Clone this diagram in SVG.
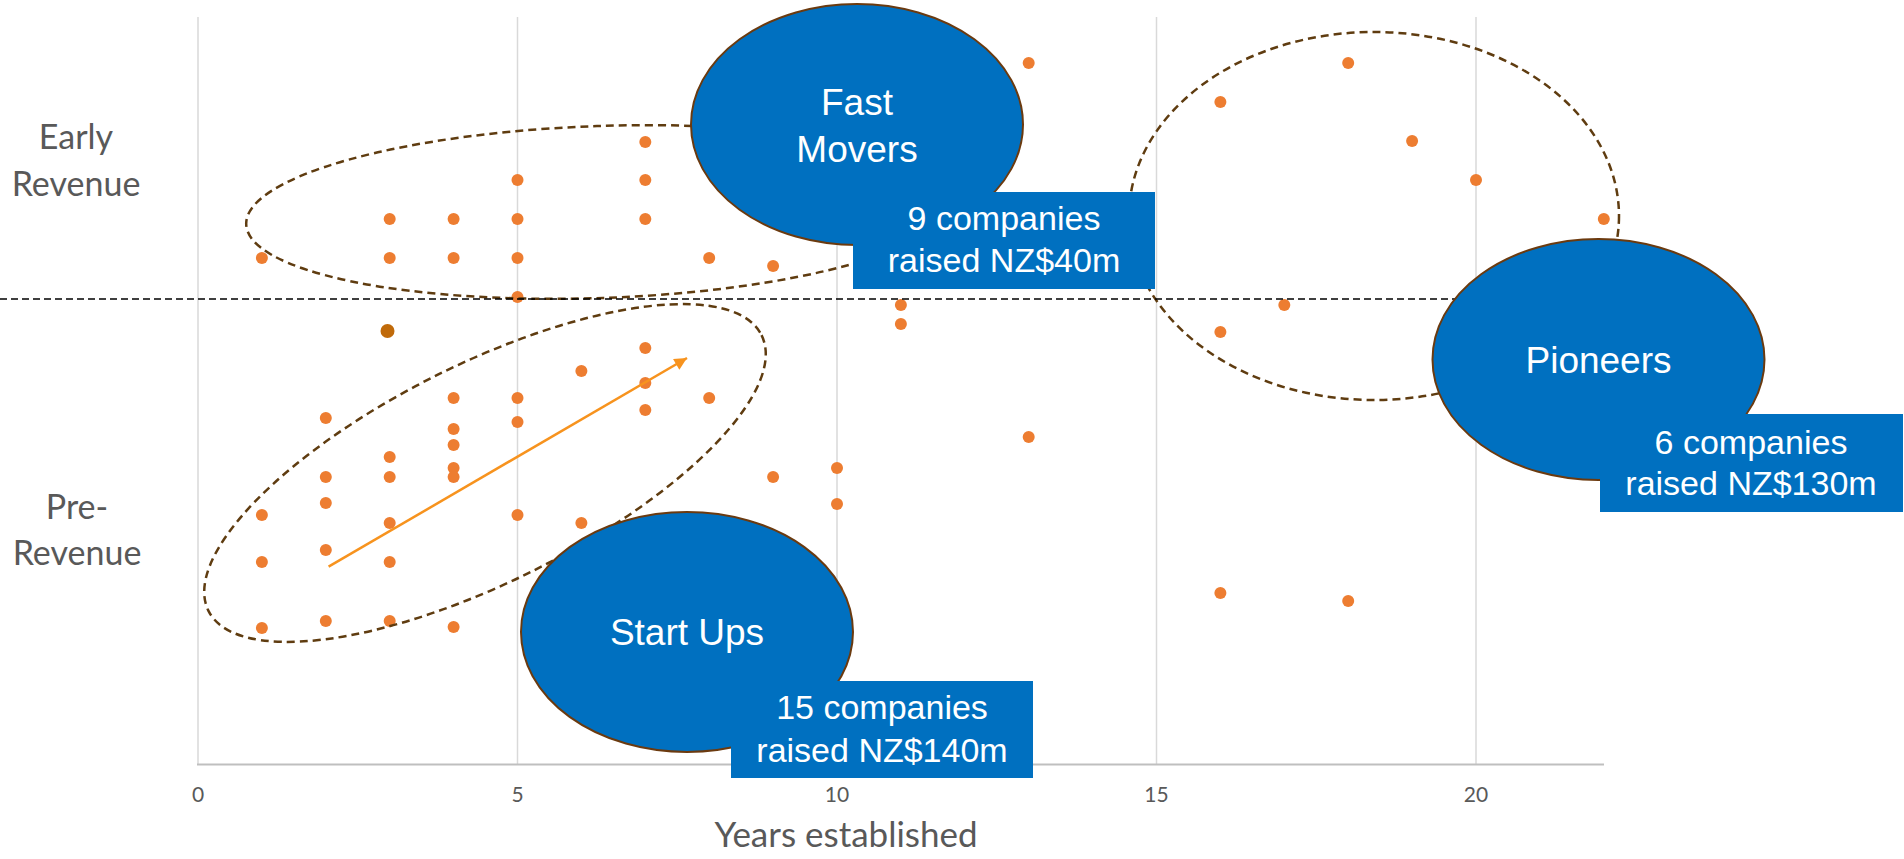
<svg xmlns="http://www.w3.org/2000/svg" width="1904" height="859" viewBox="0 0 1904 859">
<style>
.grid{stroke:#d9d9d9;stroke-width:1.5;fill:none}
.axis{stroke:#bfbfbf;stroke-width:2;fill:none}
.tick{font-family:Lato,"Liberation Sans",sans-serif;font-size:21px;fill:#595959;text-anchor:middle}
.ylab{font-family:Lato,"Liberation Sans",sans-serif;font-size:34px;fill:#595959;text-anchor:middle}
.xlab{font-family:Lato,"Liberation Sans",sans-serif;font-size:35px;fill:#595959;text-anchor:middle}
.dot{fill:#ED7D31}
.dark{fill:#C06A0A}
.cluster{fill:none;stroke:#5F3C10;stroke-width:2.5;stroke-dasharray:8 5}
.divider{stroke:#000;stroke-width:1.5;stroke-dasharray:7 4;fill:none}
.bubble{fill:#0070C0;stroke:#6B3A0F;stroke-width:2}
.box{fill:#0070C0}
.btxt{font-family:"Liberation Sans",Arial,sans-serif;font-size:37px;fill:#fff;text-anchor:middle}
.stxt{font-family:"Liberation Sans",Arial,sans-serif;font-size:34px;fill:#fff;text-anchor:middle}
.trend{stroke:#F7931E;stroke-width:2.5;fill:none}
</style>
<defs>
<marker id="ah" viewBox="0 0 10 10" refX="10" refY="5" markerWidth="6" markerHeight="5" markerUnits="strokeWidth" orient="auto">
<path d="M0,0 L10,5 L0,10 z" fill="#F7931E"/>
</marker>
</defs>
<rect x="0" y="0" width="1904" height="859" fill="#fff"/>
<g id="chart-grid">
<line class="grid" x1="198" y1="17" x2="198" y2="764"/>
<line class="grid" x1="517.5" y1="17" x2="517.5" y2="764"/>
<line class="grid" x1="837" y1="17" x2="837" y2="764"/>
<line class="grid" x1="1156.5" y1="17" x2="1156.5" y2="764"/>
<line class="grid" x1="1476" y1="17" x2="1476" y2="764"/>
<line class="axis" x1="197" y1="764.5" x2="1604" y2="764.5"/>
<text class="tick" x="198" y="802">0</text>
<text class="tick" x="517.5" y="802">5</text>
<text class="tick" x="837" y="802">10</text>
<text class="tick" x="1156.5" y="802">15</text>
<text class="tick" x="1476" y="802">20</text>
<text class="xlab" x="846" y="847">Years established</text>
</g>
<g id="y-labels">
<text class="ylab" x="76" y="149">Early</text>
<text class="ylab" x="76" y="196">Revenue</text>
<text class="ylab" x="77" y="519">Pre-</text>
<text class="ylab" x="77" y="565">Revenue</text>
</g>
<g id="points">
<circle class="dot" cx="261.9" cy="258" r="6"/>
<circle class="dot" cx="261.9" cy="515" r="6"/>
<circle class="dot" cx="261.9" cy="562" r="6"/>
<circle class="dot" cx="261.9" cy="628" r="6"/>
<circle class="dot" cx="325.8" cy="418" r="6"/>
<circle class="dot" cx="325.8" cy="477" r="6"/>
<circle class="dot" cx="325.8" cy="503" r="6"/>
<circle class="dot" cx="325.8" cy="550" r="6"/>
<circle class="dot" cx="325.8" cy="621" r="6"/>
<circle class="dot" cx="389.7" cy="219" r="6"/>
<circle class="dot" cx="389.7" cy="258" r="6"/>
<circle class="dark" cx="387.5" cy="331" r="7"/>
<circle class="dot" cx="389.7" cy="457" r="6"/>
<circle class="dot" cx="389.7" cy="477" r="6"/>
<circle class="dot" cx="389.7" cy="523" r="6"/>
<circle class="dot" cx="389.7" cy="562" r="6"/>
<circle class="dot" cx="389.7" cy="621" r="6"/>
<circle class="dot" cx="453.6" cy="219" r="6"/>
<circle class="dot" cx="453.6" cy="258" r="6"/>
<circle class="dot" cx="453.6" cy="398" r="6"/>
<circle class="dot" cx="453.6" cy="429" r="6"/>
<circle class="dot" cx="453.6" cy="445" r="6"/>
<circle class="dot" cx="453.6" cy="468" r="6"/>
<circle class="dot" cx="453.6" cy="477" r="6"/>
<circle class="dot" cx="453.6" cy="627" r="6"/>
<circle class="dot" cx="517.5" cy="180" r="6"/>
<circle class="dot" cx="517.5" cy="219" r="6"/>
<circle class="dot" cx="517.5" cy="258" r="6"/>
<circle class="dot" cx="517.5" cy="297" r="6"/>
<circle class="dot" cx="517.5" cy="398" r="6"/>
<circle class="dot" cx="517.5" cy="422" r="6"/>
<circle class="dot" cx="517.5" cy="515" r="6"/>
<circle class="dot" cx="581.4" cy="371" r="6"/>
<circle class="dot" cx="581.4" cy="523" r="6"/>
<circle class="dot" cx="645.3" cy="142" r="6"/>
<circle class="dot" cx="645.3" cy="180" r="6"/>
<circle class="dot" cx="645.3" cy="219" r="6"/>
<circle class="dot" cx="645.3" cy="348" r="6"/>
<circle class="dot" cx="645.3" cy="383" r="6"/>
<circle class="dot" cx="645.3" cy="410" r="6"/>
<circle class="dot" cx="709.2" cy="258" r="6"/>
<circle class="dot" cx="709.2" cy="398" r="6"/>
<circle class="dot" cx="773.1" cy="266" r="6"/>
<circle class="dot" cx="773.1" cy="477" r="6"/>
<circle class="dot" cx="837" cy="468" r="6"/>
<circle class="dot" cx="837" cy="504" r="6"/>
<circle class="dot" cx="900.9" cy="305" r="6"/>
<circle class="dot" cx="900.9" cy="324" r="6"/>
<circle class="dot" cx="1028.7" cy="63" r="6"/>
<circle class="dot" cx="1028.7" cy="437" r="6"/>
<circle class="dot" cx="1220.4" cy="102" r="6"/>
<circle class="dot" cx="1220.4" cy="332" r="6"/>
<circle class="dot" cx="1220.4" cy="593" r="6"/>
<circle class="dot" cx="1284.3" cy="305" r="6"/>
<circle class="dot" cx="1348.2" cy="63" r="6"/>
<circle class="dot" cx="1348.2" cy="601" r="6"/>
<circle class="dot" cx="1412.1" cy="141" r="6"/>
<circle class="dot" cx="1476" cy="180" r="6"/>
<circle class="dot" cx="1603.8" cy="219" r="6"/>
</g>
<g id="clusters">
<ellipse class="cluster" cx="600" cy="212" rx="354" ry="86" transform="rotate(-2 600 212)"/>
<ellipse class="cluster" cx="485" cy="473" rx="309" ry="109" transform="rotate(-26.5 485 473)"/>
<ellipse class="cluster" cx="1374" cy="216" rx="245" ry="184"/>
<line class="divider" x1="0" y1="299" x2="1600" y2="299"/>
</g>
<g id="connectors">
<line class="trend" x1="328.6" y1="566.7" x2="687" y2="358" marker-end="url(#ah)"/>
</g>
<g id="node-fast-movers">
<ellipse class="bubble" cx="857" cy="124.5" rx="166" ry="120.5"/>
<text class="btxt" x="857" y="115">Fast</text>
<text class="btxt" x="857" y="162">Movers</text>
<rect class="box" x="853" y="192" width="302" height="97"/>
<text class="stxt" x="1004" y="230">9 companies</text>
<text class="stxt" x="1004" y="272">raised NZ$40m</text>
</g>
<g id="node-pioneers">
<ellipse class="bubble" cx="1598.5" cy="359.5" rx="166" ry="120.5"/>
<text class="btxt" x="1598.5" y="373">Pioneers</text>
<rect class="box" x="1600" y="414" width="303" height="98"/>
<text class="stxt" x="1751" y="454">6 companies</text>
<text class="stxt" x="1751" y="495">raised NZ$130m</text>
</g>
<g id="node-start-ups">
<ellipse class="bubble" cx="687" cy="632" rx="166" ry="120"/>
<text class="btxt" x="687" y="645">Start Ups</text>
<rect class="box" x="731" y="681" width="302" height="97"/>
<text class="stxt" x="882" y="719">15 companies</text>
<text class="stxt" x="882" y="762">raised NZ$140m</text>
</g>
</svg>
